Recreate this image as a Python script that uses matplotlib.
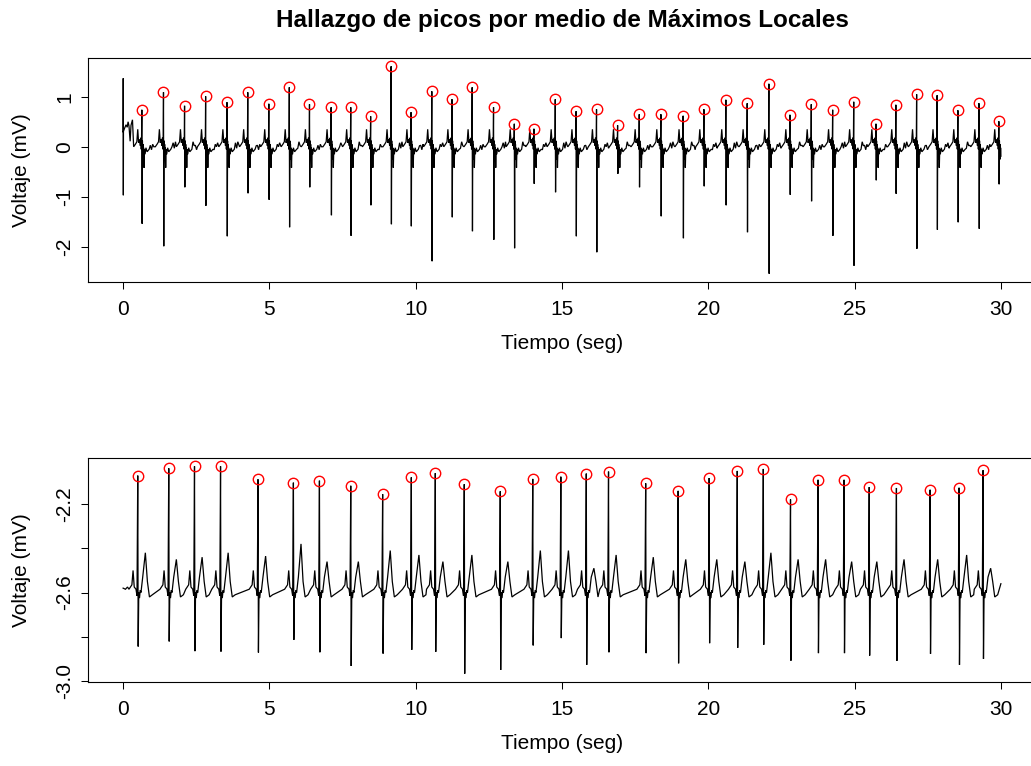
import matplotlib
matplotlib.use("Agg")
import matplotlib.pyplot as plt

plt.rcParams['font.family'] = ['Liberation Sans', 'DejaVu Sans']
plt.rcParams['axes.unicode_minus'] = False

# ---------------- text ----------------
TITLE = "Hallazgo de picos por medio de Máximos Locales"
XLABEL = "Tiempo (seg)"
YLABEL = "Voltaje (mV)"

x_ticks = [0, 5, 10, 15, 20, 25, 30]
top_y_ticks = [-2, -1, 0, 1]
top_y_ticklabels = ["-2", "-1", "0", "1"]
bot_y_ticks = [-3.0, -2.8, -2.6, -2.4, -2.2]
bot_y_ticklabels = ["-3.0", "", "-2.6", "", "-2.2"]

# ---------------- top panel data ----------------
top_peak_t = [0.64, 1.38, 2.10, 2.82, 3.55, 4.26, 4.98, 5.68, 6.37, 7.11,
              7.78, 8.46, 9.16, 9.84, 10.55, 11.24, 11.93, 12.66, 13.37, 14.04,
              14.77, 15.48, 16.18, 16.90, 17.64, 18.38, 19.14, 19.85, 20.60, 21.33,
              22.07, 22.79, 23.52, 24.25, 24.97, 25.73, 26.41, 27.12, 27.82, 28.53,
              29.25, 29.93]
top_peak_v = [0.74, 1.09, 0.82, 1.01, 0.89, 1.09, 0.86, 1.19, 0.85, 0.79,
              0.79, 0.61, 1.61, 0.69, 1.11, 0.95, 1.19, 0.79, 0.46, 0.36,
              0.95, 0.71, 0.75, 0.43, 0.65, 0.65, 0.62, 0.75, 0.94, 0.87,
              1.26, 0.64, 0.85, 0.74, 0.90, 0.46, 0.84, 1.05, 1.03, 0.73,
              0.87, 0.51]
top_trough_v = [-1.54, -1.99, -0.81, -1.18, -1.79, -0.93, -1.06, -1.61, -0.81, -1.37,
                -1.78, -1.17, -1.55, -1.59, -2.29, -1.41, -1.69, -1.86, -2.03, -0.74,
                -0.91, -1.79, -2.11, -0.54, -0.81, -1.39, -1.83, -0.79, -1.17, -1.71,
                -2.54, -0.96, -1.09, -1.78, -2.38, -0.67, -0.94, -2.04, -1.66, -1.51,
                -1.64, -0.75]
# start of the record (artifact at t=0 and elevated baseline)
top_start_t = [0.0, 0.004, 0.008, 0.012, 0.05, 0.10, 0.14, 0.17, 0.20, 0.24, 0.27, 0.32]
top_start_v = [0.30, 1.37, -0.97, 0.31, 0.37, 0.44, 0.39, 0.50, 0.42, 0.11, 0.43, 0.54]
# beat shape around each R peak (seconds relative to R, mV)
top_pre_off = [-0.28, -0.22, -0.17, -0.14, -0.11, -0.08, -0.05, -0.035, -0.02, -0.01]
top_pre_val = [0.00, 0.05, 0.10, 0.35, 0.08, 0.15, 0.02, 0.18, -0.05, 0.12]
top_s_off = 0.01
top_post_off = [0.02, 0.03, 0.04, 0.05, 0.06, 0.075, 0.09, 0.11, 0.14, 0.18, 0.25]
top_post_val = [0.12, -0.18, 0.05, -0.25, -0.02, -0.42, -0.05, -0.15, -0.02, -0.10, -0.05]
top_gap_val = [0.03, -0.06, 0.05, 0.00, 0.08, -0.03, 0.10, 0.02]
top_end_v = -0.19

# ---------------- bottom panel data ----------------
bot_peak_t = [0.50, 1.56, 2.44, 3.33, 4.61, 5.82, 6.71, 7.78, 8.87, 9.85,
              10.67, 11.66, 12.89, 14.00, 14.96, 15.83, 16.59, 17.86, 18.97, 20.03,
              20.99, 21.88, 22.81, 23.75, 24.64, 25.50, 26.43, 27.58, 28.57, 29.39]
bot_peak_v = [-2.071, -2.038, -2.029, -2.029, -2.088, -2.103, -2.094, -2.117, -2.155, -2.079,
              -2.060, -2.110, -2.142, -2.086, -2.076, -2.062, -2.053, -2.106, -2.140, -2.082,
              -2.050, -2.041, -2.179, -2.090, -2.090, -2.123, -2.127, -2.135, -2.126, -2.047]
bot_trough_v = [-2.844, -2.821, -2.865, -2.867, -2.871, -2.814, -2.870, -2.932, -2.876, -2.859,
                -2.868, -2.967, -2.950, -2.839, -2.806, -2.927, -2.870, -2.874, -2.920, -2.829,
                -2.850, -2.836, -2.908, -2.874, -2.874, -2.885, -2.909, -2.877, -2.927, -2.900]
bot_twave_v = [-2.42, -2.45, -2.44, -2.42, -2.435, -2.38, -2.46, -2.46, -2.41, -2.43,
               -2.46, -2.43, -2.46, -2.41, -2.41, -2.49, -2.43, -2.44, -2.45, -2.45,
               -2.46, -2.42, -2.45, -2.45, -2.46, -2.46, -2.45, -2.45, -2.43, -2.49]
bot_start_t = [0.0, 0.08, 0.15]
bot_start_v = [-2.580, -2.585, -2.575]
bot_pre_off = [-0.30, -0.20, -0.16, -0.12, -0.06, -0.025]
bot_pre_val = [-2.585, -2.565, -2.500, -2.575, -2.585, -2.615]
bot_s_off = 0.015
bot_post_off = [0.035, 0.06, 0.085, 0.11, 0.17, 0.26, 0.33, 0.40, 0.50]
bot_post_val = [-2.600, -2.625, -2.590, -2.600, -2.530, None, -2.550, -2.620, -2.610]
bot_gap_val = []
bot_end_v = -2.56


def build(start_t, start_v, peak_t, peak_v, trough_v, pre_off, pre_val, s_off,
          post_off, post_val, gap_val, end_v, wave_v=None, t_end=30.0):
    ts = list(start_t)
    vs = list(start_v)
    n = len(peak_t)
    for i in range(n):
        tp = peak_t[i]
        for o, v in zip(pre_off, pre_val):
            if tp + o > ts[-1] + 1e-3:
                ts.append(tp + o)
                vs.append(v)
        ts += [tp, tp + s_off]
        vs += [peak_v[i], trough_v[i]]
        nxt = peak_t[i + 1] + pre_off[0] if i < n - 1 else t_end
        for o, v in zip(post_off, post_val):
            t = tp + o
            if t < nxt - 1e-3 and t < t_end:
                ts.append(t)
                vs.append(wave_v[i] if v is None else v)
        if gap_val:
            k = 0
            t = ts[-1] + 0.04
            while t < nxt - 0.02 and t < t_end:
                ts.append(t)
                vs.append(gap_val[(i * 3 + k) % len(gap_val)])
                k += 1
                t += 0.04
    ts.append(t_end)
    vs.append(end_v)
    return ts, vs


top_t, top_v = build(top_start_t, top_start_v, top_peak_t, top_peak_v, top_trough_v,
                     top_pre_off, top_pre_val, top_s_off, top_post_off, top_post_val,
                     top_gap_val, top_end_v)
bot_t, bot_v = build(bot_start_t, bot_start_v, bot_peak_t, bot_peak_v, bot_trough_v,
                     bot_pre_off, bot_pre_val, bot_s_off, bot_post_off, bot_post_val,
                     bot_gap_val, bot_end_v, wave_v=bot_twave_v)

W, H = 1031, 766
fig = plt.figure(figsize=(W / 100, H / 100), dpi=100)

ax_left = 88 / W
ax_w = 948 / W
ax_h = 224 / H
ax1 = fig.add_axes([ax_left, 1 - 282 / H, ax_w, ax_h])
ax2 = fig.add_axes([ax_left, 1 - 682 / H, ax_w, ax_h])

FS = 15


def style(ax, t, v, pt, pv, yticks, yticklabels):
    ax.plot(t, v, color='black', lw=0.9, solid_joinstyle='miter')
    ax.plot(pt, pv, linestyle='none', marker='o', markersize=7.5,
            markerfacecolor='none', markeredgecolor='#ff0000', markeredgewidth=1.0)
    xmin, xmax = min(t), max(t)
    ymin, ymax = min(v), max(v)
    rx, ry = xmax - xmin, ymax - ymin
    ax.set_xlim(xmin - 0.04 * rx, xmax + 0.04 * rx)
    ax.set_ylim(ymin - 0.04 * ry, ymax + 0.04 * ry)
    ax.set_xticks(x_ticks)
    ax.set_xticklabels([str(x) for x in x_ticks])
    ax.set_yticks(yticks)
    ax.set_yticklabels(yticklabels, rotation=90, va='center')
    ax.tick_params(direction='out', length=5, width=0.75, labelsize=FS, colors='black')
    ax.tick_params(axis='x', pad=8)
    ax.tick_params(axis='y', pad=5)
    for s in ax.spines.values():
        s.set_linewidth(0.8)
        s.set_color('black')


style(ax1, top_t, top_v, top_peak_t, top_peak_v, top_y_ticks, top_y_ticklabels)
style(ax2, bot_t, bot_v, bot_peak_t, bot_peak_v, bot_y_ticks, bot_y_ticklabels)

cx = (ax_left + ax_w / 2)
fig.text(cx, 1 - 20 / H, TITLE, ha='center', va='center', fontsize=17.5, fontweight='bold')
fig.text(cx, 1 - 349 / H, XLABEL, ha='center', va='baseline', fontsize=FS)
fig.text(cx, 1 - 749 / H, XLABEL, ha='center', va='baseline', fontsize=FS)
fig.text(22 / W, 1 - 170 / H, YLABEL, ha='center', va='center', rotation=90, fontsize=FS)
fig.text(22 / W, 1 - 570 / H, YLABEL, ha='center', va='center', rotation=90, fontsize=FS)

fig.savefig("out.png", dpi=100)
